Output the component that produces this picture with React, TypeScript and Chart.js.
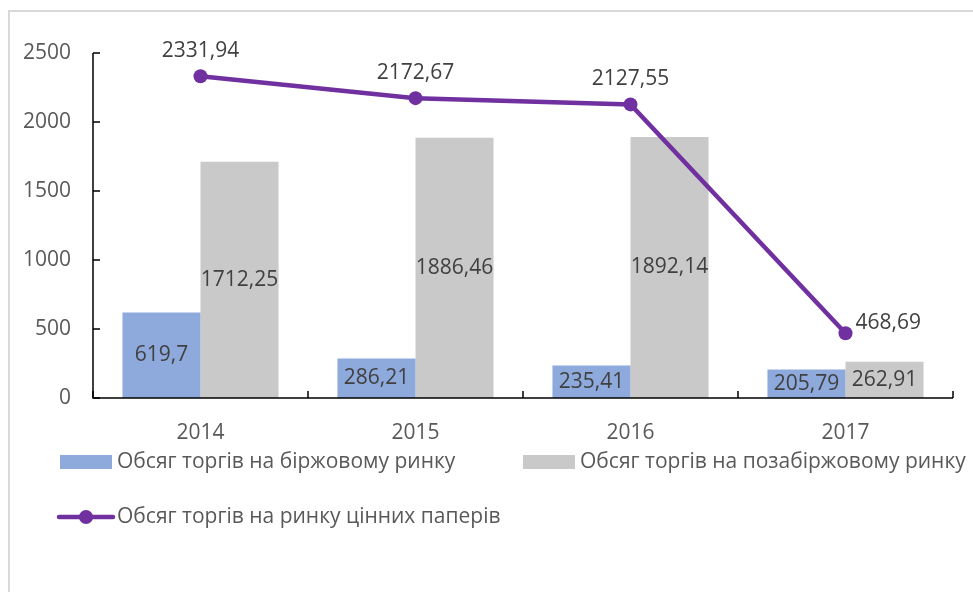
import React, { useEffect, useRef } from "react";
import { Chart, registerables } from "chart.js";
Chart.register(...registerables);

const categories = ["2014", "2015", "2016", "2017"];
const exchangeVolume = [619.7, 286.21, 235.41, 205.79];
const otcVolume = [1712.25, 1886.46, 1892.14, 262.91];
const totalVolume = [2331.94, 2172.67, 2127.55, 468.69];
const yTickValues = [0, 500, 1000, 1500, 2000, 2500];
const seriesNames = [
  "Обсяг торгів на біржовому ринку",
  "Обсяг торгів на позабіржовому ринку",
  "Обсяг торгів на ринку цінних паперів",
];

const BLUE = "#8EA9DB";
const GRAY = "#C9C9C9";
const PURPLE = "#7030A0";
const TEXT = "#595959";
const LABEL = "#404040";
const FONT = "'Open Sans', sans-serif";
const FS = 21;

const fmt = (v: number) => String(v).replace(".", ",");

const overlay = {
  id: "overlay",
  afterDatasetsDraw(chart: any) {
    const ctx = chart.ctx;
    const { left, right, top, bottom } = chart.chartArea;
    const y = chart.scales.y;
    ctx.save();
    // frame
    ctx.strokeStyle = "#D9D9D9";
    ctx.lineWidth = 2;
    ctx.beginPath();
    ctx.moveTo(9, 592);
    ctx.lineTo(9, 11);
    ctx.lineTo(973, 11);
    ctx.stroke();
    // axes
    ctx.strokeStyle = "#000";
    ctx.lineWidth = 1.5;
    ctx.beginPath();
    ctx.moveTo(left, top);
    ctx.lineTo(left, bottom);
    ctx.lineTo(right, bottom);
    ctx.stroke();
    // y ticks inside
    ctx.beginPath();
    yTickValues.forEach((v) => {
      const py = y.getPixelForValue(v);
      ctx.moveTo(left, py);
      ctx.lineTo(left + 7, py);
    });
    // x ticks at category boundaries
    const n = categories.length;
    for (let i = 0; i <= n; i++) {
      const px = left + ((right - left) * i) / n;
      ctx.moveTo(px, bottom);
      ctx.lineTo(px, bottom - 7);
    }
    ctx.stroke();

    // bar labels
    ctx.font = `${FS}px ${FONT}`;
    ctx.fillStyle = LABEL;
    ctx.textAlign = "center";
    ctx.textBaseline = "middle";
    [0, 1].forEach((di) => {
      const meta = chart.getDatasetMeta(di);
      const data = chart.data.datasets[di].data as number[];
      meta.data.forEach((bar: any, i: number) => {
        const cy = (bar.y + bar.base) / 2;
        ctx.fillText(fmt(data[i]), bar.x, cy);
      });
    });
    // line labels
    const lmeta = chart.getDatasetMeta(2);
    const ldata = chart.data.datasets[2].data as number[];
    lmeta.data.forEach((pt: any, i: number) => {
      if (i === ldata.length - 1) {
        ctx.textAlign = "left";
        ctx.fillText(fmt(ldata[i]), pt.x + 10, pt.y - 10);
      } else {
        ctx.textAlign = "center";
        ctx.fillText(fmt(ldata[i]), pt.x, pt.y - 25);
      }
    });

    // legend
    ctx.textAlign = "left";
    ctx.fillStyle = BLUE;
    ctx.fillRect(60, 455, 52, 14);
    ctx.fillStyle = GRAY;
    ctx.fillRect(523, 455, 52, 14);
    ctx.strokeStyle = PURPLE;
    ctx.lineWidth = 4.5;
    ctx.lineCap = "round";
    ctx.beginPath();
    ctx.moveTo(59, 517);
    ctx.lineTo(113, 517);
    ctx.stroke();
    ctx.fillStyle = PURPLE;
    ctx.beginPath();
    ctx.arc(86, 517, 7, 0, Math.PI * 2);
    ctx.fill();
    ctx.fillStyle = TEXT;
    ctx.fillText(seriesNames[0], 117, 462);
    ctx.fillText(seriesNames[1], 580, 462);
    ctx.fillText(seriesNames[2], 117, 517);
    ctx.restore();
  },
};

export default function App() {
  const ref = useRef<HTMLCanvasElement>(null);
  useEffect(() => {
    if (!ref.current) return;
    const chart = new Chart(ref.current, {
      type: "bar",
      data: {
        labels: categories,
        datasets: [
          {
            type: "bar",
            label: seriesNames[0],
            data: exchangeVolume,
            backgroundColor: BLUE,
            categoryPercentage: 0.726,
            barPercentage: 1,
            order: 2,
          },
          {
            type: "bar",
            label: seriesNames[1],
            data: otcVolume,
            backgroundColor: GRAY,
            categoryPercentage: 0.726,
            barPercentage: 1,
            order: 2,
          },
          {
            type: "line",
            label: seriesNames[2],
            data: totalVolume,
            borderColor: PURPLE,
            backgroundColor: PURPLE,
            borderWidth: 4.5,
            pointRadius: 7,
            pointBackgroundColor: PURPLE,
            pointBorderWidth: 0,
            order: 1,
          } as any,
        ],
      },
      options: {
        responsive: false,
        animation: false,
        layout: { padding: { left: 0, top: 53, right: 20, bottom: 0 } },
        plugins: { legend: { display: false }, tooltip: { enabled: false } },
        scales: {
          x: {
            grid: { display: false, drawTicks: false },
            border: { display: false },
            ticks: { color: TEXT, font: { family: FONT, size: FS }, padding: 22 },
            afterFit: (s: any) => {
              s.height = 194;
            },
          },
          y: {
            min: 0,
            max: 2500,
            grid: { display: false, drawTicks: false },
            border: { display: false },
            ticks: {
              color: TEXT,
              font: { family: FONT, size: FS },
              padding: 22,
              stepSize: 500,
              callback: (v: any) => String(v),
            },
            afterFit: (s: any) => {
              s.width = 93;
            },
          },
        },
      },
      plugins: [overlay],
    });
    return () => chart.destroy();
  }, []);
  return (
    <div style={{ position: "fixed", left: 0, top: 0, width: 973, height: 592, background: "#fff" }}>
      <canvas ref={ref} width={973} height={592} style={{ display: "block" }} />
    </div>
  );
}
